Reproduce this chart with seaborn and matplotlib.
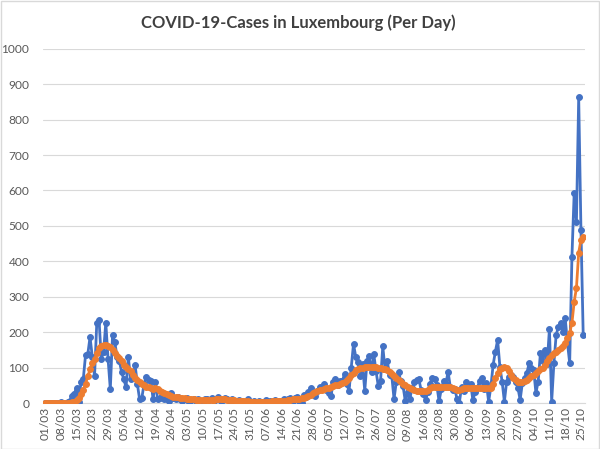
import matplotlib
matplotlib.use("Agg")
import matplotlib.pyplot as plt
import seaborn as sns
import pandas as pd
from matplotlib.patches import Rectangle

# daily cases, 01/03 .. 26/10
daily_cases = [
    0, 0, 0, 0, 1, 0, 0, 2, 0, 1,
    3, 5, 19, 26, 43, 3, 60, 68, 135, 138,
    186, 130, 76, 227, 234, 125, 144, 227, 125, 39,
    192, 172, 130, 120, 88, 67, 45, 130, 67, 80,
    108, 54, 11, 14, 55, 74, 65, 62, 11, 60,
    11, 15, 20, 10, 12, 5, 28, 15, 10, 18,
    12, 5, 10, 14, 3, 8, 10, 5, 12, 3,
    1, 10, 12, 8, 15, 5, 10, 17, 5, 8,
    15, 10, 3, 12, 7, 0, 8, 5, 3, 2,
    10, 4, 0, 5, 2, 6, 1, 3, 8, 2,
    5, 4, 9, 3, 7, 2, 12, 5, 10, 15,
    7, 13, 18, 5, 0, 22, 18, 30, 43, 30,
    19, 35, 45, 40, 54, 38, 28, 19, 60, 67,
    50, 62, 62, 81, 55, 34, 99, 167, 130, 116,
    76, 110, 34, 118, 132, 88, 138, 90, 48, 62,
    160, 95, 118, 80, 76, 11, 60, 88, 61, 48,
    5, 30, 11, 43, 60, 66, 67, 38, 25, 9,
    30, 55, 71, 68, 50, 5, 40, 61, 55, 88,
    45, 38, 40, 10, 1, 46, 35, 60, 48, 55,
    9, 30, 43, 62, 71, 40, 57, 4, 45, 108,
    145, 178, 103, 60, 4, 60, 74, 80, 74, 60,
    43, 9, 57, 70, 85, 113, 100, 94, 29, 60,
    141, 120, 150, 110, 209, 4, 113, 193, 215, 226,
    201, 240, 170, 113, 413, 594, 512, 863, 489, 193,
]

# 7-day average as drawn in the chart
weekly_avg = [
    0, 0, 0, 0, 0, 0, 0, 0, 0, 0,
    0, 0, 2, 4, 8, 15, 25, 38, 55, 75,
    95, 112, 125, 140, 155, 160, 163, 165, 162, 158,
    150, 140, 132, 126, 118, 108, 102, 95, 89, 80,
    72, 66, 60, 55, 50, 46, 44, 42, 40, 42,
    40, 35, 30, 27, 25, 22, 20, 18, 17, 16,
    15, 14, 13, 12, 11, 10, 10, 9, 9, 8,
    8, 8, 8, 9, 9, 9, 10, 10, 10, 10,
    10, 9, 9, 8, 8, 7, 6, 6, 5, 5,
    5, 4, 4, 4, 4, 4, 4, 4, 4, 4,
    4, 5, 5, 5, 5, 6, 6, 7, 8, 9,
    10, 11, 12, 12, 13, 15, 18, 21, 24, 27,
    30, 33, 36, 38, 40, 41, 42, 45, 48, 50,
    52, 55, 57, 60, 65, 72, 78, 85, 92, 97,
    99, 100, 101, 102, 103, 103, 102, 101, 100, 98,
    97, 95, 92, 88, 82, 76, 70, 64, 58, 54,
    50, 46, 42, 39, 37, 35, 34, 33, 33, 34,
    37, 41, 44, 45, 46, 46, 45, 45, 46, 46,
    45, 43, 40, 38, 38, 40, 42, 43, 43, 43,
    42, 42, 42, 42, 43, 43, 43, 43, 42, 55,
    70, 85, 95, 100, 102, 98, 90, 80, 70, 65,
    60, 58, 60, 62, 66, 70, 75, 80, 85, 90,
    95, 100, 108, 118, 128, 135, 140, 145, 150, 155,
    160, 170, 183, 198, 226, 286, 325, 424, 461, 470,
]

tick_labels = [
    "01/03", "08/03", "15/03", "22/03", "29/03", "05/04", "12/04", "19/04",
    "26/04", "03/05", "10/05", "17/05", "24/05", "31/05", "07/06", "14/06",
    "21/06", "28/06", "05/07", "12/07", "19/07", "26/07", "02/08", "09/08",
    "16/08", "23/08", "30/08", "06/09", "13/09", "20/09", "27/09", "04/10",
    "11/10", "18/10", "25/10",
]

df = pd.DataFrame({
    "day": range(len(daily_cases)),
    "cases": daily_cases,
    "avg": weekly_avg,
})

sns.set_theme(style="white")
plt.rcParams["font.family"] = ["Lato", "DejaVu Sans"]

fig = plt.figure(figsize=(6, 4.49), dpi=100)
ax = fig.add_axes([0.072, 0.1024, 0.903, 0.789])

sns.lineplot(data=df, x="day", y="cases", ax=ax, color="#4472C4",
             linewidth=2.0, marker="o", markersize=4.2,
             markeredgecolor="#4472C4", zorder=3)
sns.lineplot(data=df, x="day", y="avg", ax=ax, color="#ED7D31",
             linewidth=2.0, marker="o", markersize=4.2,
             markeredgecolor="#ED7D31", zorder=4)

ax.set_xlim(-0.8, 239.8)
ax.set_ylim(0, 1000)
ax.set_yticks(range(0, 1001, 100))
ax.set_xticks(range(0, 7 * len(tick_labels), 7))
ax.set_xticklabels(tick_labels, rotation=90)
ax.tick_params(axis="both", labelsize=8.6, colors="#595959", length=0)
ax.tick_params(axis="y", pad=10)
ax.tick_params(axis="x", pad=3)
ax.set_xlabel("")
ax.set_ylabel("")

ax.grid(axis="y", color="#D9D9D9", linewidth=0.8)
ax.set_axisbelow(True)
for side in ["left", "right", "top"]:
    ax.spines[side].set_visible(False)
ax.spines["bottom"].set_color("#D9D9D9")
ax.spines["bottom"].set_linewidth(0.8)

fig.text(0.498, 0.949, "COVID-19-Cases in Luxembourg (Per Day)", ha="center",
         va="center", fontsize=12, fontweight="bold", color="#404040")

# chart area border
fig.patches.append(Rectangle((0.001, 0.001), 0.997, 0.997, transform=fig.transFigure,
                             fill=False, edgecolor="#D9D9D9", linewidth=1))

fig.savefig("out.png", dpi=100)
